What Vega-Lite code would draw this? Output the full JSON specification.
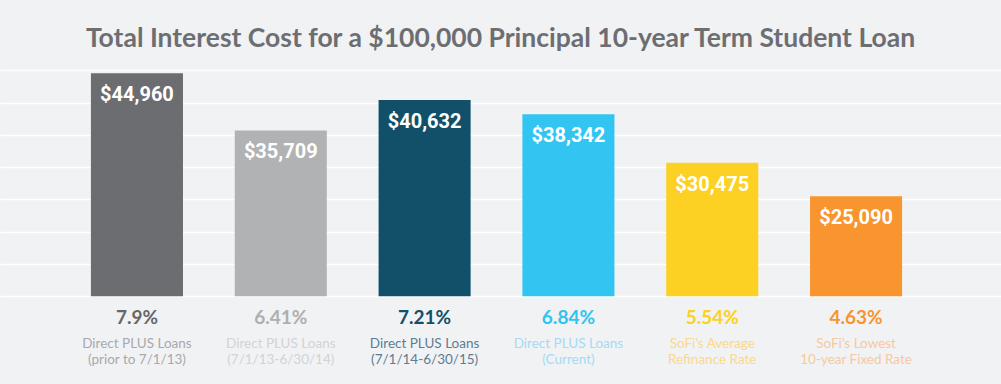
{
  "$schema": "https://vega.github.io/schema/vega-lite/v6.json",
  "width": 1001,
  "height": 324,
  "autosize": {"type": "none"},
  "padding": {"left": 0, "right": 0, "top": 60, "bottom": 0},
  "background": "#f1f2f4",
  "config": {"view": {"stroke": null}},
  "title": {
    "text": "Total Interest Cost for a $100,000 Principal 10-year Term Student Loan",
    "font": "Lato",
    "fontSize": 26.5,
    "fontWeight": "bold",
    "color": "#6d6e71",
    "anchor": "middle",
    "frame": "group",
    "baseline": "alphabetic",
    "offset": 15,
    "dy": 28
  },
  "data": {
    "values": [
      {"key": "a", "cost": 44960, "rate": "7.9%", "label": "Direct PLUS Loans\n(prior to 7/1/13)"},
      {"key": "b", "cost": 35709, "rate": "6.41%", "label": "Direct PLUS Loans\n(7/1/13-6/30/14)"},
      {"key": "c", "cost": 40632, "rate": "7.21%", "label": "Direct PLUS Loans\n(7/1/14-6/30/15)"},
      {"key": "d", "cost": 38342, "rate": "6.84%", "label": "Direct PLUS Loans\n(Current)"},
      {"key": "e", "cost": 30475, "rate": "5.54%", "label": "SoFi’s Average\nRefinance Rate"},
      {"key": "f", "cost": 25090, "rate": "4.63%", "label": "SoFi’s Lowest\n10-year Fixed Rate"}
    ]
  },
  "encoding": {
    "x": {
      "field": "key",
      "type": "nominal",
      "sort": null,
      "scale": {"type": "band", "paddingInner": 0.36, "paddingOuter": 0.66, "align": 0.479},
      "axis": null
    }
  },
  "layer": [
    {
      "mark": {"type": "bar", "cornerRadius": 0},
      "encoding": {
        "y": {
          "field": "cost",
          "type": "quantitative",
          "scale": {"domain": [-5281, 47106], "zero": false, "nice": false},
          "axis": {
            "values": [8900, 14120, 19340, 24560, 29780, 35000, 40220, 45440],
            "grid": true,
            "gridColor": "#ffffff",
            "gridWidth": 1.5,
            "gridOpacity": 1,
            "domain": false,
            "ticks": false,
            "labels": false,
            "title": null
          }
        },
        "y2": {"datum": 8900},
        "color": {
          "field": "key",
          "type": "nominal",
          "scale": {"domain": ["a", "b", "c", "d", "e", "f"], "range": ["#6c6d70", "#b1b2b4", "#12506a", "#33c5f2", "#fcd123", "#f8952e"]},
          "legend": null
        }
      }
    },
    {
      "mark": {"type": "text", "font": "Roboto", "fontSize": 20, "fontWeight": "bold", "color": "#ffffff", "baseline": "alphabetic", "dy": 28},
      "encoding": {
        "y": {"field": "cost", "type": "quantitative"},
        "text": {"field": "cost", "type": "quantitative", "format": "$,.0f"}
      }
    },
    {
      "mark": {"type": "text", "font": "Lato", "fontSize": 19, "fontWeight": "bold", "baseline": "alphabetic", "dy": 28},
      "encoding": {
        "y": {"datum": 8900},
        "text": {"field": "rate"},
        "color": {
          "field": "key",
          "type": "nominal",
          "scale": {"domain": ["a", "b", "c", "d", "e", "f"], "range": ["#66676a", "#aeafb1", "#124f69", "#31c4f0", "#fcd122", "#f7942e"]},
          "legend": null
        }
      }
    },
    {
      "mark": {"type": "text", "font": "Lato", "fontSize": 13.5, "baseline": "alphabetic", "dy": 52, "lineBreak": "\n", "lineHeight": 16},
      "encoding": {
        "y": {"datum": 8900},
        "text": {"field": "label"},
        "fill": {
          "field": "key",
          "type": "nominal",
          "scale": {"domain": ["a", "b", "c", "d", "e", "f"], "range": ["#a8a9ab", "#d2d3d5", "#5d7d92", "#a3dbf5", "#fcd88a", "#f9c89c"]},
          "legend": null
        }
      }
    }
  ],
  "resolve": {"scale": {"color": "independent"}}
}
